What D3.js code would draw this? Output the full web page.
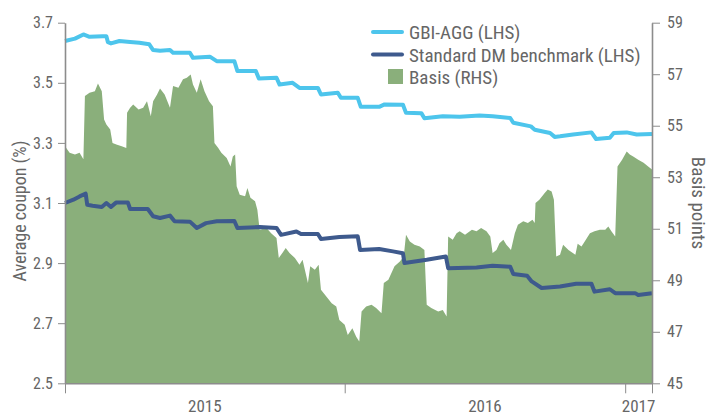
<!DOCTYPE html>
<meta charset="utf-8">
<script src="https://cdn.jsdelivr.net/npm/d3@7"></script>
<style>
  html, body {
    margin: 0;
    background-color: #fff;
  }
  text {
    font-family: "Roboto Condensed", "Liberation Sans Narrow", "DejaVu Sans Condensed", sans-serif;
    font-stretch: condensed;
    fill: #666;
  }
  .axis path, .axis line {
    stroke: #8c8c8c;
  }
</style>
<body>
<script>
// series (dates + values)
var basisDates = ["2015-01-01","2015-01-07","2015-01-14","2015-01-20","2015-01-25","2015-01-27","2015-02-02","2015-02-09","2015-02-13","2015-02-18","2015-02-21","2015-02-24","2015-03-01","2015-03-04","2015-03-09","2015-03-16","2015-03-22","2015-03-23","2015-03-27","2015-03-31","2015-04-07","2015-04-13","2015-04-18","2015-04-23","2015-04-26","2015-05-01","2015-05-05","2015-05-11","2015-05-18","2015-05-22","2015-05-29","2015-06-04","2015-06-09","2015-06-14","2015-06-17","2015-06-22","2015-06-27","2015-07-02","2015-07-08","2015-07-13","2015-07-15","2015-07-20","2015-07-24","2015-07-31","2015-08-05","2015-08-08","2015-08-11","2015-08-13","2015-08-17","2015-08-24","2015-08-27","2015-08-31","2015-09-06","2015-09-09","2015-09-12","2015-09-21","2015-09-27","2015-10-04","2015-10-07","2015-10-13","2015-10-16","2015-10-21","2015-10-28","2015-11-03","2015-11-07","2015-11-10","2015-11-14","2015-11-17","2015-11-23","2015-11-28","2015-12-01","2015-12-08","2015-12-15","2015-12-21","2015-12-25","2016-01-01","2016-01-05","2016-01-11","2016-01-16","2016-01-20","2016-01-23","2016-01-29","2016-02-05","2016-02-11","2016-02-18","2016-02-21","2016-02-27","2016-03-02","2016-03-06","2016-03-13","2016-03-18","2016-03-21","2016-03-26","2016-04-01","2016-04-08","2016-04-14","2016-04-17","2016-04-23","2016-05-02","2016-05-08","2016-05-13","2016-05-15","2016-05-21","2016-05-26","2016-05-30","2016-06-06","2016-06-15","2016-06-21","2016-06-27","2016-07-04","2016-07-09","2016-07-12","2016-07-17","2016-07-21","2016-07-26","2016-07-30","2016-08-05","2016-08-10","2016-08-14","2016-08-21","2016-08-27","2016-09-02","2016-09-05","2016-09-06","2016-09-11","2016-09-18","2016-09-22","2016-09-27","2016-09-30","2016-10-03","2016-10-08","2016-10-12","2016-10-19","2016-10-28","2016-10-31","2016-11-05","2016-11-09","2016-11-16","2016-11-22","2016-11-29","2016-12-06","2016-12-10","2016-12-14","2016-12-19","2016-12-22","2016-12-28","2017-01-03","2017-01-07","2017-01-12","2017-01-18","2017-01-25","2017-01-31","2017-02-05"];
var basisValues = [54.2,53.95,53.88,53.95,53.7,56.15,56.28,56.34,56.64,56.34,55.24,55.05,54.85,54.33,54.27,54.2,54.14,55.5,55.7,55.82,55.63,55.7,55.95,55.37,55.95,56.2,56.45,56.21,55.7,56.54,56.47,56.8,56.86,56.99,56.6,56.28,56.8,56.34,55.95,55.76,54.33,54.14,53.95,53.75,53.42,53.81,53.88,52.65,52.32,52.26,52.58,52.2,52.07,51.74,50.96,51.03,50.83,50.64,49.86,50.12,50.25,50.06,49.86,49.6,49.8,49.41,48.89,49.54,49.41,49.6,48.63,48.37,48.11,47.98,47.46,47.27,46.88,47.14,46.81,46.62,47.79,47.98,48.05,47.92,47.72,48.89,49.02,49.28,49.54,49.73,49.92,50.77,50.51,50.38,50.31,50.18,48.05,47.92,47.79,47.85,47.59,50.7,50.57,50.83,50.9,50.77,50.96,50.9,51.03,50.9,50.7,50.06,50.18,50.44,50.57,50.38,50.18,50.83,51.16,51.29,51.22,51.35,51.22,52.0,52.13,52.39,52.52,52.45,52.13,49.92,49.99,50.38,50.18,49.99,50.42,50.31,50.5,50.83,50.9,50.96,50.96,51.09,50.9,50.7,53.42,53.68,54.0,53.88,53.8,53.68,53.56,53.42,53.3];

var aggDates = ["2015-01-01","2015-01-14","2015-01-25","2015-02-02","2015-02-19","2015-02-24","2015-02-26","2015-03-02","2015-03-13","2015-03-27","2015-04-08","2015-04-21","2015-04-26","2015-05-05","2015-05-18","2015-05-22","2015-06-13","2015-06-17","2015-07-09","2015-07-18","2015-08-10","2015-08-14","2015-09-07","2015-09-11","2015-10-04","2015-10-08","2015-10-25","2015-11-03","2015-11-27","2015-12-01","2015-12-23","2015-12-27","2016-01-18","2016-01-22","2016-02-15","2016-02-22","2016-03-17","2016-03-21","2016-04-10","2016-04-14","2016-05-08","2016-05-30","2016-06-25","2016-07-12","2016-08-04","2016-08-08","2016-08-31","2016-09-05","2016-09-25","2016-10-01","2016-10-08","2016-10-25","2016-11-18","2016-11-24","2016-12-12","2016-12-17","2017-01-03","2017-01-16","2017-02-05"];
var aggValues = [3.639,3.647,3.661,3.653,3.655,3.655,3.635,3.631,3.639,3.636,3.633,3.628,3.609,3.607,3.609,3.6,3.6,3.583,3.587,3.572,3.572,3.539,3.539,3.514,3.517,3.494,3.5,3.483,3.483,3.461,3.467,3.45,3.45,3.42,3.42,3.428,3.427,3.4,3.399,3.382,3.389,3.387,3.391,3.389,3.383,3.367,3.355,3.344,3.333,3.32,3.322,3.328,3.335,3.313,3.317,3.333,3.335,3.328,3.33];

var dmDates = ["2015-01-01","2015-01-12","2015-01-20","2015-01-28","2015-01-30","2015-02-06","2015-02-18","2015-02-24","2015-03-02","2015-03-09","2015-03-24","2015-03-27","2015-04-19","2015-04-26","2015-05-05","2015-05-18","2015-05-24","2015-06-13","2015-06-22","2015-07-04","2015-07-18","2015-08-10","2015-08-14","2015-09-12","2015-10-04","2015-10-10","2015-10-30","2015-11-05","2015-11-27","2015-12-01","2015-12-25","2016-01-18","2016-01-21","2016-02-15","2016-03-04","2016-03-17","2016-03-19","2016-04-17","2016-05-12","2016-05-15","2016-06-21","2016-07-12","2016-08-04","2016-08-08","2016-08-26","2016-09-01","2016-09-14","2016-10-08","2016-10-29","2016-11-18","2016-11-22","2016-12-12","2016-12-19","2017-01-14","2017-01-18","2017-02-05"];
var dmValues = [3.1,3.111,3.122,3.131,3.094,3.091,3.087,3.1,3.087,3.102,3.102,3.08,3.08,3.056,3.05,3.058,3.039,3.038,3.017,3.033,3.039,3.04,3.017,3.02,3.017,2.994,3.005,2.997,2.997,2.98,2.987,2.989,2.944,2.947,2.939,2.933,2.9,2.911,2.922,2.883,2.885,2.891,2.888,2.864,2.858,2.839,2.817,2.822,2.831,2.831,2.805,2.813,2.8,2.8,2.794,2.8];

var leftTicks = [2.5, 2.7, 2.9, 3.1, 3.3, 3.5, 3.7];
var rightTicks = [45, 47, 49, 51, 53, 55, 57, 59];
var yearLabels = ["2015", "2016", "2017"];
var legendLabels = ["GBI-AGG (LHS)", "Standard DM benchmark (LHS)", "Basis (RHS)"];

var colAgg = "#4dc5ec", colDm = "#3e5a8d", colBasis = "#8aaf7b";

var width = 718, height = 417;
var margin = { top: 22.7, right: 66, bottom: 33.7, left: 65 };
var parse = d3.timeParse("%Y-%m-%d");

var basis = basisDates.map(function (d, i) { return { date: parse(d), value: basisValues[i] }; });
var agg = aggDates.map(function (d, i) { return { date: parse(d), value: aggValues[i] }; });
var dm = dmDates.map(function (d, i) { return { date: parse(d), value: dmValues[i] }; });

var x = d3.scaleTime()
  .domain([parse("2015-01-01"), parse("2017-02-05")])
  .range([margin.left, width - margin.right]);
var yL = d3.scaleLinear().domain([2.5, 3.7]).range([height - margin.bottom, margin.top]);
var yR = d3.scaleLinear().domain([45, 59]).range([height - margin.bottom, margin.top]);

var svg = d3.select("body").append("svg")
  .attr("width", width)
  .attr("height", height);

// basis area
svg.append("path")
  .datum(basis)
  .attr("fill", colBasis)
  .attr("d", d3.area()
    .x(function (d) { return x(d.date); })
    .y0(yR(45))
    .y1(function (d) { return yR(d.value); }));

// lines
var line = function (yScale) {
  return d3.line()
    .x(function (d) { return x(d.date); })
    .y(function (d) { return yScale(d.value); });
};
svg.append("path").datum(agg)
  .attr("fill", "none").attr("stroke", colAgg).attr("stroke-width", 4)
  .attr("stroke-linejoin", "round")
  .attr("d", line(yL));
svg.append("path").datum(dm)
  .attr("fill", "none").attr("stroke", colDm).attr("stroke-width", 4)
  .attr("stroke-linejoin", "round")
  .attr("d", line(yL));

// axes
var gl = svg.append("g").attr("class", "axis")
  .attr("transform", "translate(" + margin.left + ",0)")
  .call(d3.axisLeft(yL).tickValues(leftTicks).tickFormat(d3.format(".1f")).tickSize(7).tickSizeOuter(0).tickPadding(5));
var gr = svg.append("g").attr("class", "axis")
  .attr("transform", "translate(" + (width - margin.right) + ",0)")
  .call(d3.axisRight(yR).tickValues(rightTicks).tickSize(8).tickSizeOuter(0).tickPadding(7));
var xTicks = [parse("2015-01-01"), parse("2016-01-01"), parse("2017-01-01"), parse("2017-02-05")];
var gx = svg.append("g").attr("class", "axis")
  .attr("transform", "translate(0," + (height - margin.bottom) + ")")
  .call(d3.axisBottom(x).tickValues(xTicks).tickFormat("").tickSize(10).tickSizeOuter(0));

[gl, gr, gx].forEach(function (g) {
  g.select(".domain").attr("stroke-width", 1.6);
  g.selectAll(".tick text").style("font-size", "16px").attr("fill", "#666");
});

// year labels centred between ticks
svg.append("g").selectAll("text")
  .data(yearLabels)
  .enter().append("text")
  .attr("x", function (d, i) { return (x(xTicks[i]) + x(xTicks[i + 1])) / 2; })
  .attr("y", 412)
  .attr("text-anchor", "middle")
  .style("font-size", "17px")
  .text(function (d) { return d; });

// axis titles
svg.append("text")
  .attr("transform", "translate(26,211) rotate(-90)")
  .attr("text-anchor", "middle")
  .style("font-size", "18px")
  .text("Average coupon (%)");
svg.append("text")
  .attr("transform", "translate(692,203) rotate(90)")
  .attr("text-anchor", "middle")
  .style("font-size", "19px")
  .text("Basis points");

// legend
var lg = svg.append("g").attr("transform", "translate(373,0)");
var rows = lg.selectAll("g").data(legendLabels).enter().append("g")
  .attr("transform", function (d, i) { return "translate(0," + (32 + i * 22.5) + ")"; });
rows.each(function (d, i) {
  var r = d3.select(this);
  if (i < 2) {
    r.append("line").attr("x1", 0).attr("x2", 29).attr("y1", 0).attr("y2", 0)
      .attr("stroke", i === 0 ? colAgg : colDm).attr("stroke-width", 4).attr("stroke-linecap", "round");
  } else {
    r.append("rect").attr("x", 15).attr("y", -8).attr("width", 15).attr("height", 15).attr("fill", colBasis);
  }
  r.append("text").attr("x", 36).attr("y", 7).style("font-size", "19px").text(d);
});
</script>
</body>
